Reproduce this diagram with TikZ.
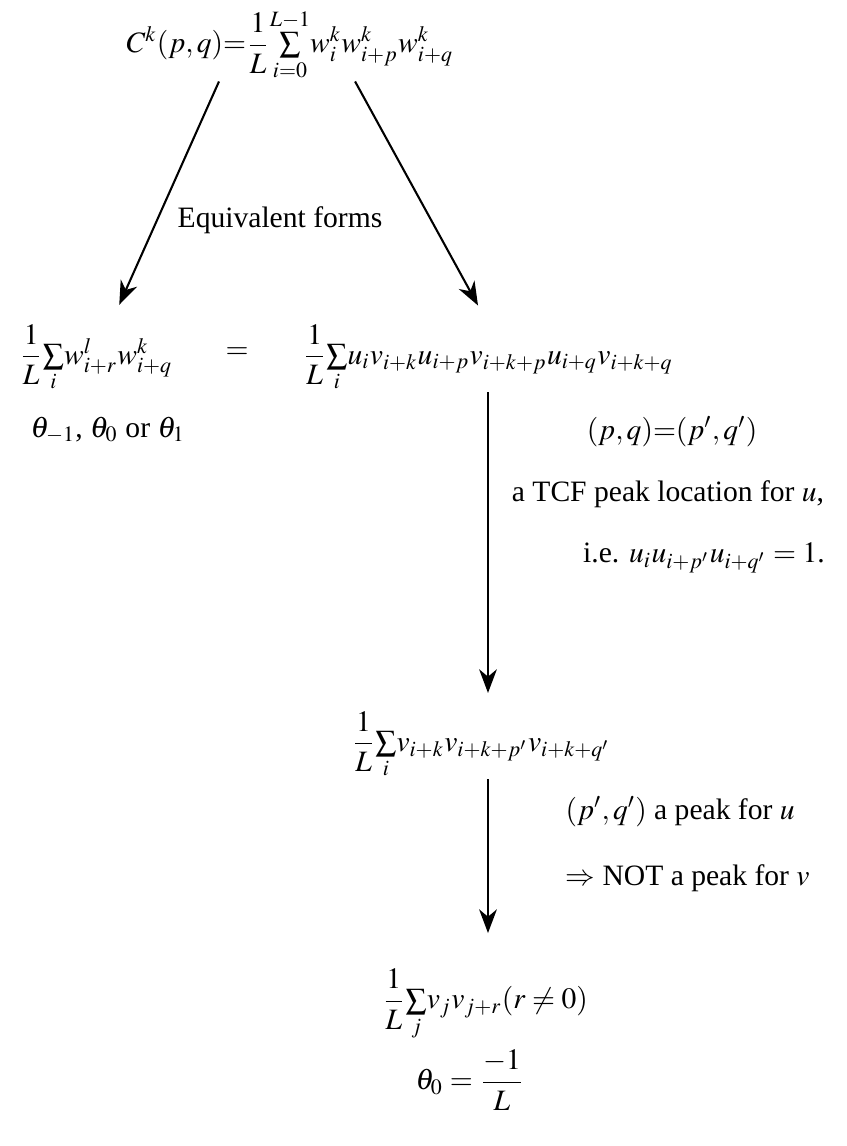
\documentclass[tikz,border=0pt]{standalone}
\usepackage{amsmath}
\usepackage{mathptmx}
\usepackage{fontspec}
\setmainfont{Liberation Serif}
\usetikzlibrary{arrows.meta}
\tikzset{
  arr/.style={line width=0.7pt, -{Stealth[length=8pt,width=6pt,inset=2.5pt]}},
  lbl/.style={inner sep=0pt}
}
\begin{document}
\begin{tikzpicture}[x=0.338pt, y=-0.338pt]
    \useasboundingbox (0,0) rectangle (846,1146);

    % top: the correlation
    \node[lbl] (top) at (290,45) {$C^k(p,q){=}\dfrac{1}{L}{\textstyle\sum\limits_{i=0}^{L-1}}w_i^k w_{i+p}^k w_{i+q}^k$};
    \node[lbl] (eqv) at (280,220) {Equivalent forms};

    % second row
    \node[lbl] (left) at (96,358) {$\dfrac{1}{L}{\textstyle\sum\limits_{i}}w_{i+r}^l w_{i+q}^k$};
    \node[lbl] (eq) at (237,353) {$=$};
    \node[lbl] (right) at (488,358) {$\dfrac{1}{L}{\textstyle\sum\limits_{i}}u_i v_{i+k}u_{i+p}v_{i+k+p}u_{i+q}v_{i+k+q}$};
    \node[lbl, anchor=west] (theta) at (30,430) {$\theta_{-1}$, $\theta_0$ or $\theta_1$};

    \draw[arr, shorten >=7pt] ([xshift=-24pt]top.south) -- ([xshift=5pt]left.north);
    \draw[arr, shorten >=7pt] ([xshift=22pt]top.south) -- (right.north);

    % first step
    \node[lbl] (pq) at (672,432) {$(p,q){=}(p',q')$};
    \node[lbl] (tcf) at (668,494) {a TCF peak location for $u$,};
    \node[lbl] (ie) at (704,558) {i.e. $u_iu_{i+p'}u_{i+q'}=1$.};
    \node[lbl] (mid) at (481,745) {$\dfrac{1}{L}{\textstyle\sum\limits_{i}}v_{i+k}v_{i+k+p'}v_{i+k+q'}$};
    \draw[arr, shorten >=6pt] (right.south) -- (right.south |- mid.north);

    % second step
    \node[lbl, anchor=west] (peak) at (565,812) {$(p',q')$ a peak for $u$};
    \node[lbl, anchor=west] (notpeak) at (565,878) {$\Rightarrow$ NOT a peak for $v$};
    \node[lbl] (bot) at (485,1005) {$\dfrac{1}{L}{\textstyle\sum\limits_{j}}v_jv_{j+r}(r\neq0)$};
    \node[lbl] (theta0) at (470,1080) {$\theta_0=\dfrac{-1}{L}$};
    \draw[arr, shorten >=12pt] (right.south |- mid.south) -- (right.south |- bot.north);
\end{tikzpicture}
\end{document}
